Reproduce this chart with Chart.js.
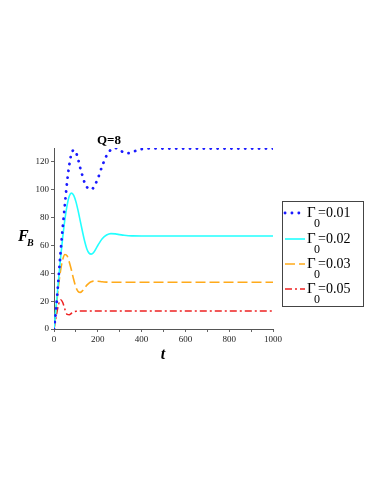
<!DOCTYPE html>
<html>
<head>
<meta charset="utf-8">
<script src="https://cdn.jsdelivr.net/npm/chart.js@4.4.1/dist/chart.umd.min.js"></script>
<style>
  html, body { margin: 0; padding: 0; background: #fff; }
  canvas { display: block; }
</style>
</head>
<body>
<canvas id="fbChart" width="382" height="494"></canvas>
<script>
// time samples shared by all four curves
const tValues = [0, 10, 20, 30, 40, 50, 60, 70, 80, 90, 100, 110, 120, 130, 140, 150, 160, 170, 180,
                 200, 220, 240, 260, 280, 300, 320, 340, 360, 400, 450, 500, 600, 700, 800, 900, 1000];

const gamma001 = [0, 15, 35, 55, 73, 90, 106, 118, 126, 128.5, 127, 122, 115.5, 110, 105, 102, 100.5, 100.3, 101.5,
                  108, 117, 124.5, 128.8, 130, 128.7, 126.6, 126.3, 127.3, 129.2, 129.7, 129.6, 129.6, 129.6, 129.6, 129.6, 129.6];
const gamma002 = [0, 17, 34, 51, 66, 79, 89, 95.5, 97.6, 96, 91.5, 85, 77.5, 70, 63, 57.5, 54.5, 53.8, 54.8,
                  60, 64.8, 67.5, 68.5, 68.3, 67.8, 67.3, 67, 66.9, 66.8, 66.8, 66.8, 66.8, 66.8, 66.8, 66.8, 66.8];
const gamma003 = [0, 15, 30, 42, 50, 53.5, 52.5, 48, 42, 35.5, 30, 27, 26.3, 27.5, 29.5, 31.5, 33, 34, 34.4,
                  34.3, 33.9, 33.7, 33.6, 33.6, 33.6, 33.6, 33.6, 33.6, 33.6, 33.6, 33.6, 33.6, 33.6, 33.6, 33.6, 33.6];
const gamma005 = [0, 9, 17, 21, 19, 14, 10.5, 10.3, 11.3, 12.2, 12.7, 13, 13, 13, 12.9, 12.9, 12.9, 12.9, 12.9,
                  12.9, 12.9, 12.9, 12.9, 12.9, 12.9, 12.9, 12.9, 12.9, 12.9, 12.9, 12.9, 12.9, 12.9, 12.9, 12.9, 12.9];

const seriesLabels = ['0.01', '0.02', '0.03', '0.05'];
const xTicks = [0, 100, 200, 300, 400, 500, 600, 700, 800, 900, 1000];
const yTicks = [0, 20, 40, 60, 80, 100, 120];

function toPoints(values) {
    return values.map((v, i) => ({ x: tValues[i], y: v }));
}

const serif = '"Liberation Serif", "DejaVu Serif", serif';

// titles and the boxed legend with subscripts
const decorPlugin = {
    id: 'decor',
    afterDraw(chart) {
        const ctx = chart.ctx;
        ctx.save();
        ctx.fillStyle = '#000';
        ctx.textBaseline = 'middle';

        ctx.font = 'bold 13px ' + serif;
        ctx.textAlign = 'center';
        ctx.fillText('Q=8', 109, 141);

        ctx.font = 'italic bold 16px ' + serif;
        ctx.textAlign = 'left';
        ctx.fillText('F', 18, 237);
        ctx.font = 'italic bold 10px ' + serif;
        ctx.fillText('B', 27, 243);

        ctx.font = 'italic bold 16px ' + serif;
        ctx.textAlign = 'center';
        ctx.fillText('t', 163, 355);

        // legend box
        ctx.strokeStyle = '#444';
        ctx.lineWidth = 1;
        ctx.setLineDash([]);
        ctx.strokeRect(282.5, 201.5, 81, 105);

        const rows = [213, 239, 264, 289];
        chart.data.datasets.forEach((ds, i) => {
            const y = rows[i];
            ctx.save();
            ctx.strokeStyle = ds.borderColor;
            ctx.lineWidth = ds.borderWidth;
            ctx.lineCap = ds.borderCapStyle || 'butt';
            ctx.setLineDash(ds.borderDash || []);
            ctx.beginPath();
            ctx.moveTo(285, y);
            ctx.lineTo(305, y);
            ctx.stroke();
            ctx.restore();

            ctx.fillStyle = '#000';
            ctx.textAlign = 'left';
            ctx.font = '15px ' + serif;
            ctx.fillText('\u0393', 307, y);
            ctx.font = '12px ' + serif;
            ctx.fillText('0', 314, y + 11);
            ctx.font = '14px ' + serif;
            ctx.fillText('=' + seriesLabels[i], 318, y);
        });
        ctx.restore();
    }
};

const ctx = document.getElementById('fbChart').getContext('2d');
new Chart(ctx, {
    type: 'line',
    data: {
        datasets: [{
            label: 'Gamma0=0.01',
            data: toPoints(gamma001),
            borderColor: '#1a1aff',
            borderWidth: 2.8,
            borderDash: [0.1, 6.8],
            borderCapStyle: 'round',
            pointRadius: 0,
            cubicInterpolationMode: 'monotone'
        }, {
            label: 'Gamma0=0.02',
            data: toPoints(gamma002),
            borderColor: '#22ffff',
            borderWidth: 1.6,
            pointRadius: 0,
            cubicInterpolationMode: 'monotone'
        }, {
            label: 'Gamma0=0.03',
            data: toPoints(gamma003),
            borderColor: '#ffaa1a',
            borderWidth: 1.6,
            borderDash: [10, 4],
            pointRadius: 0,
            cubicInterpolationMode: 'monotone'
        }, {
            label: 'Gamma0=0.05',
            data: toPoints(gamma005),
            borderColor: '#ee2222',
            borderWidth: 1.5,
            borderDash: [7, 3, 2, 3],
            pointRadius: 0,
            cubicInterpolationMode: 'monotone'
        }]
    },
    options: {
        responsive: false,
        animation: false,
        layout: {
            padding: { left: 0, right: 109, top: 148, bottom: 145 }
        },
        plugins: {
            legend: { display: false },
            title: { display: false },
            tooltip: { enabled: false }
        },
        scales: {
            x: {
                type: 'linear',
                min: 0,
                max: 1000,
                afterBuildTicks: function(scale) {
                    scale.ticks = xTicks.map(v => ({ value: v }));
                },
                afterFit: function(scale) {
                    scale.height = 20;
                },
                grid: {
                    drawOnChartArea: false,
                    tickLength: 3,
                    color: '#666'
                },
                border: { color: '#555' },
                ticks: {
                    autoSkip: false,
                    maxRotation: 0,
                    padding: 2,
                    color: '#222',
                    font: { family: serif, size: 9 },
                    callback: function(v) { return v % 200 === 0 ? v : ''; }
                }
            },
            y: {
                min: 0,
                max: 130,
                afterBuildTicks: function(scale) {
                    scale.ticks = yTicks.map(v => ({ value: v }));
                },
                afterFit: function(scale) {
                    scale.width = 54;
                },
                grid: {
                    drawOnChartArea: false,
                    tickLength: 3,
                    color: '#666'
                },
                border: { color: '#555' },
                ticks: {
                    padding: 2,
                    color: '#222',
                    font: { family: serif, size: 9 }
                }
            }
        }
    },
    plugins: [decorPlugin]
});
</script>
</body>
</html>
